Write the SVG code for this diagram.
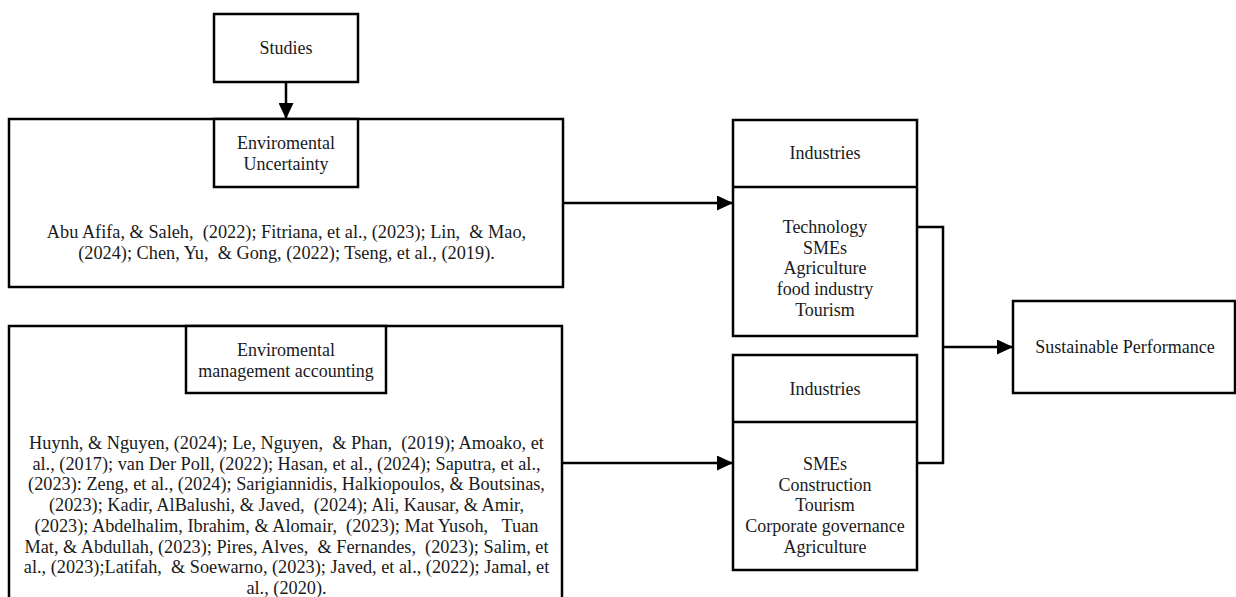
<svg xmlns="http://www.w3.org/2000/svg" width="1236" height="597" viewBox="0 0 1236 597">
  <style>
    .box { fill: #ffffff; stroke: #000000; stroke-width: 2.5; }
    .div { stroke: #000000; stroke-width: 2.5; fill: none; }
    .t { font-family: "Liberation Serif", "Times New Roman", serif; font-size: 18px; fill: #1a1a1a; text-anchor: middle; white-space: pre; }
    .c { font-size: 18.3px; }
    .conn { stroke: #000000; stroke-width: 2.5; fill: none; }
  </style>
  <defs>
    <marker id="arrow" markerUnits="userSpaceOnUse" markerWidth="16" markerHeight="15" refX="16" refY="7.5" orient="auto">
      <path d="M0,0 L16,7.5 L0,15 Z" fill="#000000"/>
    </marker>
  </defs>
  <rect width="1236" height="597" fill="#ffffff"/>

  <g id="studies">
    <rect class="box" x="214" y="14" width="144" height="68"/>
    <text class="t" x="286" y="54">Studies</text>
  </g>

  <g id="env-uncertainty">
    <rect class="box" x="9" y="119" width="554" height="168"/>
    <rect class="box" x="214" y="119" width="144" height="68"/>
    <text class="t" x="286" y="149">Enviromental</text>
    <text class="t" x="286" y="169.5">Uncertainty</text>
    <text class="t c" xml:space="preserve" x="286.5" y="238">Abu Afifa, &amp; Saleh,  (2022); Fitriana, et al., (2023); Lin,  &amp; Mao,</text>
    <text class="t c" xml:space="preserve" x="286.5" y="258.5">(2024); Chen, Yu,  &amp; Gong, (2022); Tseng, et al., (2019).</text>
  </g>

  <g id="env-management-accounting">
    <rect class="box" x="9" y="326" width="553" height="300"/>
    <rect class="box" x="186" y="326" width="200" height="67"/>
    <text class="t" x="286" y="356">Enviromental</text>
    <text class="t" x="286" y="377">management accounting</text>
    <text class="t c" xml:space="preserve" x="286.5" y="449">Huynh, &amp; Nguyen, (2024); Le, Nguyen,  &amp; Phan,  (2019); Amoako, et</text>
    <text class="t c" xml:space="preserve" x="286.5" y="469.7">al., (2017); van Der Poll, (2022); Hasan, et al., (2024); Saputra, et al.,</text>
    <text class="t c" xml:space="preserve" x="286.5" y="490.4">(2023): Zeng, et al., (2024); Sarigiannidis, Halkiopoulos, &amp; Boutsinas,</text>
    <text class="t c" xml:space="preserve" x="286.5" y="511">(2023); Kadir, AlBalushi, &amp; Javed,  (2024); Ali, Kausar, &amp; Amir,</text>
    <text class="t c" xml:space="preserve" x="286.5" y="531.8">(2023); Abdelhalim, Ibrahim, &amp; Alomair,  (2023); Mat Yusoh,   Tuan</text>
    <text class="t c" xml:space="preserve" x="286.5" y="552.5">Mat, &amp; Abdullah, (2023); Pires, Alves,  &amp; Fernandes,  (2023); Salim, et</text>
    <text class="t c" xml:space="preserve" x="286.5" y="573">al., (2023);Latifah,  &amp; Soewarno, (2023); Javed, et al., (2022); Jamal, et</text>
    <text class="t c" xml:space="preserve" x="286.5" y="594">al., (2020).</text>
  </g>

  <g id="industries-1">
    <rect class="box" x="733" y="120" width="184" height="216"/>
    <line class="div" x1="733" y1="187" x2="917" y2="187"/>
    <text class="t" x="825" y="159">Industries</text>
    <text class="t" x="825" y="233">Technology</text>
    <text class="t" x="825" y="253.7">SMEs</text>
    <text class="t" x="825" y="274.4">Agriculture</text>
    <text class="t" x="825" y="295">food industry</text>
    <text class="t" x="825" y="315.8">Tourism</text>
  </g>

  <g id="industries-2">
    <rect class="box" x="733" y="355" width="184" height="215"/>
    <line class="div" x1="733" y1="422" x2="917" y2="422"/>
    <text class="t" x="825" y="395">Industries</text>
    <text class="t" x="825" y="470">SMEs</text>
    <text class="t" x="825" y="490.7">Construction</text>
    <text class="t" x="825" y="511.4">Tourism</text>
    <text class="t" x="825" y="532">Corporate governance</text>
    <text class="t" x="825" y="552.8">Agriculture</text>
  </g>

  <g id="sustainable-performance">
    <rect class="box" x="1013" y="301" width="222" height="92"/>
    <text class="t" x="1125" y="353">Sustainable Performance</text>
  </g>

  <g id="connectors">
    <line class="conn" x1="286" y1="82" x2="286" y2="119" marker-end="url(#arrow)"/>
    <line class="conn" x1="563" y1="203" x2="733" y2="203" marker-end="url(#arrow)"/>
    <line class="conn" x1="562" y1="463" x2="733" y2="463" marker-end="url(#arrow)"/>
    <polyline class="conn" points="917,227 943,227 943,463 917,463"/>
    <line class="conn" x1="943" y1="347" x2="1013" y2="347" marker-end="url(#arrow)"/>
  </g>
</svg>
